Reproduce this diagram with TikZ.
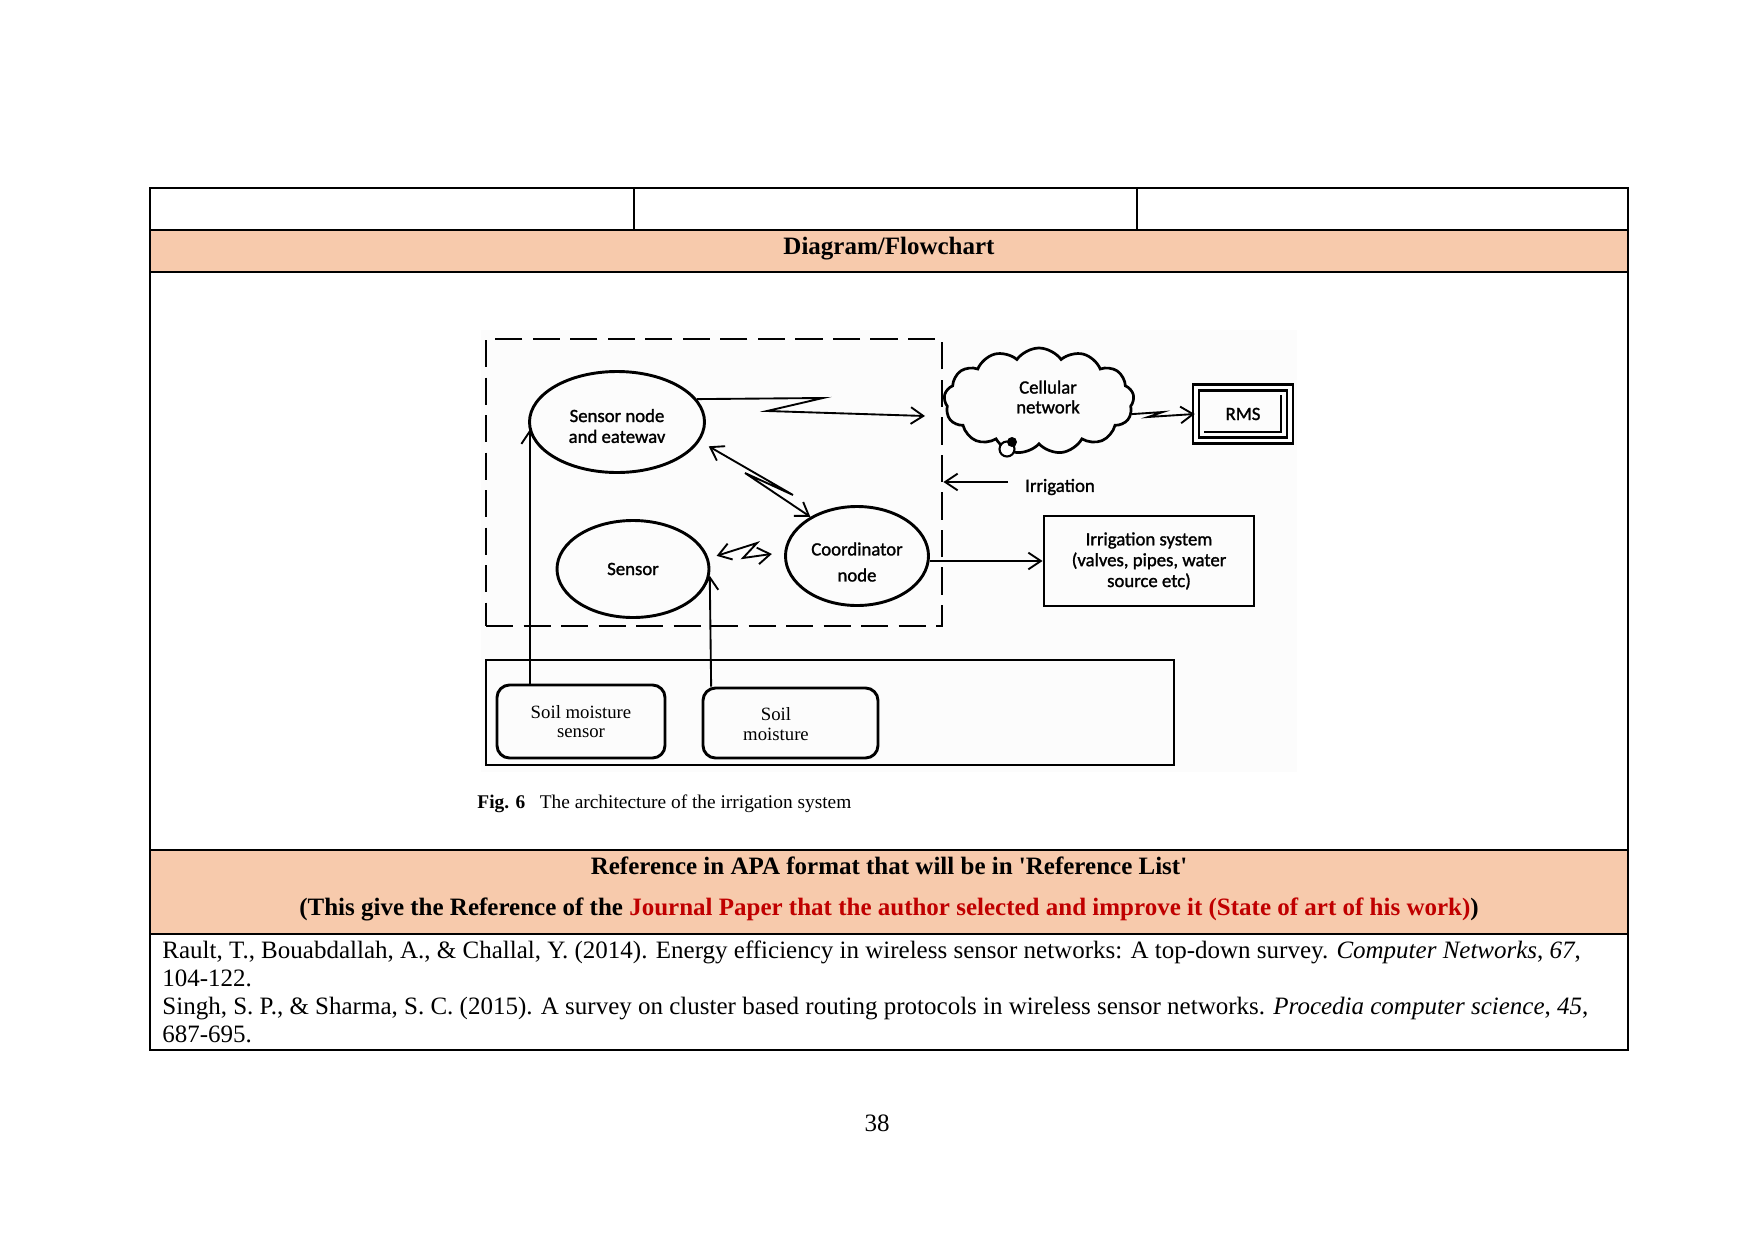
\documentclass[tikz,border=0pt]{standalone}
\usepackage{fontspec}
\setmainfont{Liberation Serif}[Ligatures=TeXOff]
\newfontfamily\diagfont{Carlito}[FakeBold=1.4]
\usetikzlibrary{shapes.geometric,shapes.symbols,arrows.meta,calc}
\definecolor{peach}{HTML}{F7CAAC}
\definecolor{darkred}{HTML}{C00000}
\begin{document}
\begin{tikzpicture}[x=0.48pt,y=-0.48pt,
  tbl/.style={line width=0.6pt},
  tabtext/.style={font=\fontsize{12}{13.8}\selectfont, inner sep=0pt},
  dfont/.style={font=\diagfont\fontsize{9}{10}\selectfont},
  ell/.style={ellipse, draw, line width=1.4pt, inner sep=0pt, align=center, dfont},
  rbox/.style={draw, line width=1.4pt, rounded corners=6pt, inner sep=0pt, align=center, font=\fontsize{9}{9.5}\selectfont},
  rtext/.style={inner sep=0pt, align=center, font=\fontsize{9}{9.5}\selectfont},
  conn/.style={line width=0.9pt},
  arr/.style={conn, -{Straight Barb[length=6pt,width=8pt]}},
  darr/.style={conn, {Straight Barb[length=6pt,width=8pt]}-{Straight Barb[length=6pt,width=8pt]}}
]
\useasboundingbox (0,0) rectangle (1754,1241);
\fill[white] (0,0) rectangle (1754,1241);

% ---------- table ----------
\fill[peach] (150,230) rectangle (1628,272);
\fill[peach] (150,850) rectangle (1628,934);
\draw[tbl] (150,188) rectangle (1628,1050);
\draw[tbl] (150,230) -- (1628,230);
\draw[tbl] (150,272) -- (1628,272);
\draw[tbl] (150,850) -- (1628,850);
\draw[tbl] (150,934) -- (1628,934);
\draw[tbl] (634,188) -- (634,230);
\draw[tbl] (1137,188) -- (1137,230);

\node[tabtext, anchor=base, font=\bfseries\fontsize{12}{13.8}\selectfont] (hdr) at (889,254) {Diagram/Flowchart};
\node[tabtext, anchor=base, font=\bfseries\fontsize{12}{13.8}\selectfont] (rh1) at (889,874) {Reference in APA format that will be in 'Reference List'};
\node[tabtext, anchor=base, font=\bfseries\fontsize{12}{13.8}\selectfont] (rh2) at (889,915) {(This give the Reference of the \textcolor{darkred}{Journal Paper that the author selected and improve it (State of art of his work)})};
\node[tabtext, anchor=base west] (r1) at (162,958) {Rault, T., Bouabdallah, A., \& Challal, Y. (2014). Energy efficiency in wireless sensor networks: A top-down survey. \textit{Computer Networks}, \textit{67},};
\node[tabtext, anchor=base west] (r2) at (162,986) {104-122.};
\node[tabtext, anchor=base west] (r3) at (162,1014) {Singh, S. P., \& Sharma, S. C. (2015). A survey on cluster based routing protocols in wireless sensor networks. \textit{Procedia computer science}, \textit{45},};
\node[tabtext, anchor=base west] (r4) at (162,1042) {687-695.};
\node[tabtext, anchor=base] (pg) at (877,1131) {38};

% ---------- diagram ----------
\fill[black!1] (481,330) rectangle (1297,772);
\node[draw, line width=1.4pt, dash pattern=on 13pt off 5pt, minimum width={456*0.48pt}, minimum height={287*0.48pt}, inner sep=0pt] (grp) at (714,482.5) {};

\node[ell, minimum width={175*0.48pt}, minimum height={101*0.48pt}] (sn) at (617,422) {};
\node[inner sep=0pt, align=center, dfont] (sntxt) at (617,426) {Sensor node\\and eatewav};
\node[ell, minimum width={152*0.48pt}, minimum height={97*0.48pt}] (sens) at (633,569) {Sensor};
\node[ell, minimum width={143*0.48pt}, minimum height={99*0.48pt}] (coord) at (857,556) {};
\node[inner sep=0pt, align=center, font=\diagfont\fontsize{9}{12.5}\selectfont] (coordtxt) at (857,562) {Coordinator\\node};

\node[cloud, draw, cloud puffs=13, cloud puff arc=110, aspect=1.8, line width=1.3pt, inner sep=0pt, minimum width={190*0.48pt}, minimum height={106*0.48pt}] (cell) at (1039,401) {};
\node[inner sep=0pt, align=center, font=\diagfont\fontsize{9}{9.5}\selectfont] (celltxt) at (1048,397) {Cellular\\network};
\node[circle, draw, line width=1pt, fill=white, minimum size={15*0.48pt}, inner sep=0pt] (bub) at (1007,449) {};
\node[circle, fill=black, minimum size={10*0.48pt}, inner sep=0pt] (dot) at (1012,442) {};

\node[draw, double, line width=1.2pt, double distance=1.8pt, minimum width={94*0.48pt}, minimum height={53*0.48pt}, inner sep=0pt, dfont] (rms) at (1243,414) {RMS};
\draw[line width=0.8pt] (1204,432) -- (1281,432) -- (1281,395);

\node[draw, line width=1.4pt, minimum width={210*0.48pt}, minimum height={90*0.48pt}, inner sep=0pt, align=center, dfont] (irr) at (1149,561) {Irrigation system\\(valves, pipes, water\\source etc)};
\node[dfont, inner sep=0pt] (irrlab) at (1060,487) {Irrigation};

\node[draw, line width=1.4pt, minimum width={688*0.48pt}, minimum height={105*0.48pt}, inner sep=0pt] (field) at (830,712.5) {};
\node[rbox, minimum width={168*0.48pt}, minimum height={73*0.48pt}] (sms) at (581,721.5) {Soil moisture\\sensor};
\node[rbox, minimum width={175*0.48pt}, minimum height={70*0.48pt}] (sm) at (790.5,723) {};
\node[rtext] (smtxt) at (776,724) {Soil\\moisture};

\node[anchor=base west, inner sep=0pt, font=\fontsize{9.3}{11}\selectfont] (cap) at (477,808) {\textbf{Fig. 6}\hspace{0.75em}The architecture of the irrigation system};

% ---------- connectors ----------
\coordinate (cin) at (925,416);
\coordinate (irrsrc) at (1008,482);
\coordinate (smsTop) at ($(sms.north west)!0.2!(sms.north east)$);
\coordinate (smTop) at ($(sm.north west)!0.054!(sm.north east)$);

\draw[arr] (sn.16) -- (823,398) -- (767,411) -- (cin);
\draw[darr, shorten <=5pt] (sn.-13) -- (793,495) -- (745,473) -- (coord.140);
\draw[darr, shorten <=4pt, shorten >=6pt] (sens.8) -- (757,543) -- (743,558) -- (coord.177);
\draw[arr] (cell.-8) -- (1163,412) -- (1148,417) -- (rms.west);
\draw[arr] (irrsrc) -- (irrsrc -| grp.east);
\draw[arr] (coord.east |- irr.west) -- (irr.west);
\draw[arr] (smsTop) -- (smsTop |- sn.185);
\draw[arr] (smTop) -- (sens.-5);
\end{tikzpicture}
\end{document}
